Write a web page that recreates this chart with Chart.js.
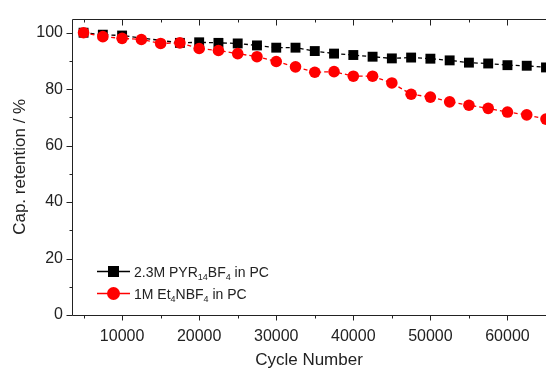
<!DOCTYPE html>
<html><head><meta charset="utf-8">
<script src="https://cdn.jsdelivr.net/npm/chart.js@4/dist/chart.umd.min.js"></script>
<style>html,body{margin:0;padding:0;background:#fff;overflow:hidden}</style>
</head><body>
<canvas id="c" width="546" height="369"></canvas>
<script>
// ---- data ----
const cycles = [5000,7500,10000,12500,15000,17500,20000,22500,25000,27500,30000,32500,35000,37500,40000,42500,45000,47500,50000,52500,55000,57500,60000,62500,65000];
const pyrRetention = [100,99.3,99.0,null,null,96.4,96.6,96.4,96.2,95.5,94.7,94.7,93.5,92.6,92.1,91.5,90.9,91.2,90.8,90.2,89.4,89.1,88.5,88.3,87.7];
const et4nRetention = [100,98.6,98.0,97.6,96.2,96.4,94.4,93.7,92.6,91.5,89.8,87.9,86.0,86.2,84.6,84.6,82.2,78.2,77.2,75.5,74.3,73.2,71.9,70.9,69.4];
const xTickValues = [10000,20000,30000,40000,50000,60000];
const xMinorTicks = [5000,15000,25000,35000,45000,55000];
const yTickValues = [0,20,40,60,80,100];
const yMinorTicks = [10,30,50,70,90];
const legendPyr = [["2.3M PYR",false],["14",true],["BF",false],["4",true],[" in PC",false]];
const legendEt = [["1M Et",false],["4",true],["NBF",false],["4",true],[" in PC",false]];

const FONT = "'Liberation Sans', Arial, sans-serif";

const framePlugin = {
  id: 'frame',
  beforeDatasetsDraw(chart) {
    const {ctx, chartArea, scales: {x, y}} = chart;
    const L = Math.round(chartArea.left) + 0.5;
    const B = Math.round(chartArea.bottom) + 0.5;
    const T = Math.round(chartArea.top) + 0.5;
    ctx.save();
    ctx.strokeStyle = '#222';
    ctx.lineWidth = 1;
    ctx.beginPath();
    ctx.moveTo(L, T); ctx.lineTo(L, B); ctx.lineTo(chart.width, B);
    ctx.moveTo(L, T); ctx.lineTo(chart.width, T);
    yTickValues.forEach(v => { const p = Math.round(y.getPixelForValue(v)) + 0.5; ctx.moveTo(L, p); ctx.lineTo(L - 6, p); });
    yMinorTicks.forEach(v => { const p = Math.round(y.getPixelForValue(v)) + 0.5; ctx.moveTo(L, p); ctx.lineTo(L - 3, p); });
    xTickValues.forEach(v => { const p = Math.round(x.getPixelForValue(v)) + 0.5; ctx.moveTo(p, B); ctx.lineTo(p, B + 5); ctx.moveTo(p, T); ctx.lineTo(p, T + 6); });
    xMinorTicks.forEach(v => { const p = Math.round(x.getPixelForValue(v)) + 0.5; ctx.moveTo(p, B); ctx.lineTo(p, B + 3); ctx.moveTo(p, T); ctx.lineTo(p, T + 3); });
    ctx.stroke();
    ctx.restore();
  }
};

function drawRich(ctx, x, baseline, parts) {
  parts.forEach(([t, sub]) => {
    ctx.font = (sub ? '9px ' : '14px ') + FONT;
    ctx.fillText(t, x, sub ? baseline + 3.5 : baseline);
    x += ctx.measureText(t).width;
  });
}

const legendPlugin = {
  id: 'customLegend',
  afterDatasetsDraw(chart) {
    const ctx = chart.ctx;
    ctx.save();
    // row 1
    let cy = 271.5;
    ctx.strokeStyle = '#000'; ctx.lineWidth = 1.3;
    ctx.beginPath(); ctx.moveTo(97, cy); ctx.lineTo(130, cy); ctx.stroke();
    ctx.fillStyle = '#000';
    ctx.fillRect(113.5 - 5.5, cy - 5.5, 11, 11);
    ctx.fillStyle = '#222'; ctx.textBaseline = 'alphabetic'; ctx.textAlign = 'left';
    drawRich(ctx, 134, cy + 5, legendPyr);
    // row 2
    cy = 293.5;
    ctx.strokeStyle = '#ff0000';
    ctx.beginPath(); ctx.moveTo(97, cy); ctx.lineTo(130, cy); ctx.stroke();
    ctx.fillStyle = '#ff0000';
    ctx.beginPath(); ctx.arc(113.5, cy, 6.5, 0, Math.PI * 2); ctx.fill();
    ctx.fillStyle = '#222';
    drawRich(ctx, 134, cy + 5, legendEt);
    ctx.restore();
  }
};

new Chart(document.getElementById('c'), {
  type: 'line',
  data: {
    labels: cycles,
    datasets: [
      {
        label: '2.3M PYR14BF4 in PC',
        data: cycles.map((c, i) => ({x: c, y: pyrRetention[i]})),
        borderColor: '#000', backgroundColor: '#000',
        borderWidth: 1.3, borderDash: [4, 3], spanGaps: true,
        pointStyle: 'rect', pointRadius: 7, pointBorderWidth: 0,
        pointBackgroundColor: '#000',
        order: 2, clip: false
      },
      {
        label: '1M Et4NBF4 in PC',
        data: cycles.map((c, i) => ({x: c, y: et4nRetention[i]})),
        borderColor: '#ff0000', backgroundColor: '#ff0000',
        borderWidth: 1.3, borderDash: [4, 3],
        pointStyle: 'circle', pointRadius: 5.8, pointBorderWidth: 0,
        pointBackgroundColor: '#ff0000',
        order: 1, clip: false
      }
    ]
  },
  options: {
    responsive: false,
    animation: false,
    devicePixelRatio: 1,
    layout: { padding: { top: 14, left: 0, right: 0, bottom: 0 }, autoPadding: false },
    plugins: { legend: { display: false }, tooltip: { enabled: false } },
    scales: {
      x: {
        type: 'linear', min: 3500, max: 65000,
        grid: { display: false, drawTicks: false },
        border: { display: false },
        afterFit(s) { s.height = 54; },
        afterBuildTicks(s) { s.ticks = xTickValues.map(v => ({value: v})); },
        ticks: { color: '#222', font: { family: FONT, size: 16 }, padding: 12, maxRotation: 0, autoSkip: false, callback: v => String(v) },
        title: { display: true, text: 'Cycle Number', color: '#222', font: { family: FONT, size: 17, lineHeight: 1 }, padding: { top: 0, bottom: 0 } }
      },
      y: {
        type: 'linear', min: 0, max: 105,
        grid: { display: false, drawTicks: false },
        border: { display: false },
        afterFit(s) { s.width = 72; },
        afterBuildTicks(s) { s.ticks = yTickValues.map(v => ({value: v})); },
        ticks: { color: '#222', font: { family: FONT, size: 16 }, padding: 9, autoSkip: false, callback: v => String(v) },
        title: { display: true, text: 'Cap. retention / %', color: '#222', font: { family: FONT, size: 17, lineHeight: 1 }, padding: { top: 12, bottom: 0 } }
      }
    }
  },
  plugins: [framePlugin, legendPlugin]
});
</script>
</body></html>
